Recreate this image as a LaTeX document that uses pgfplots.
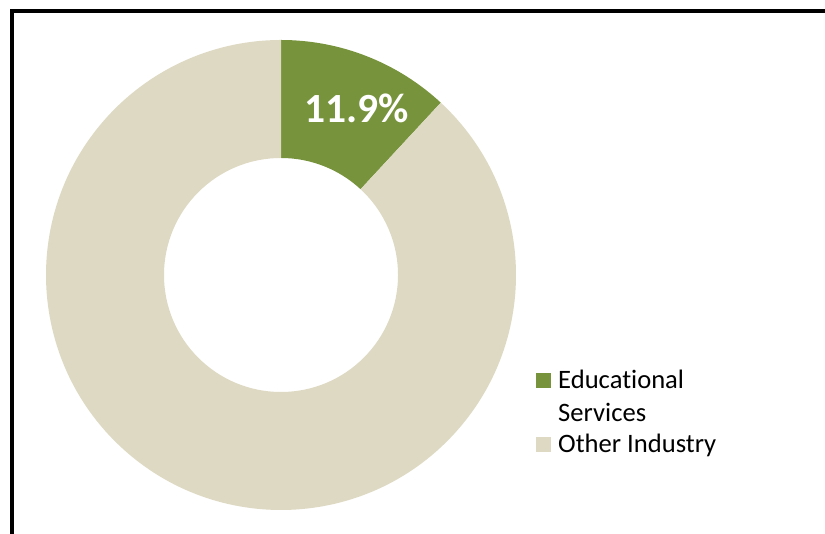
\documentclass[border=0pt]{standalone}
\usepackage{pgfplots}
\pgfplotsset{compat=1.18}
\usepackage{pgfplotstable}
\usepackage{fontspec}
\setmainfont[RawFeature={-liga;-clig;-dlig;-calt}]{Carlito}
\definecolor{edu}{HTML}{77933C}
\definecolor{oth}{HTML}{DDD9C3}
\pgfplotstableread{
share
11.9
88.1
}\sharetable
\begin{document}
\begin{tikzpicture}
\pgfplotstablegetelem{0}{share}\of\sharetable
\pgfmathsetmacro\ea{90-3.6*\pgfplotsretval}
\begin{axis}[at={(0,0)}, anchor=south west, scale only axis, width=825pt, height=534pt,
  xmin=0, xmax=825, ymin=0, ymax=534, hide axis, clip=false]
\begin{scope}[shift={(axis cs:281,259)}]
\fill[edu] (90:235pt) arc[start angle=90, end angle=\ea, radius=235pt] -- (\ea:117pt) arc[start angle=\ea, end angle=90, radius=117pt] -- cycle;
\fill[oth] (\ea:235pt) arc[start angle=\ea, end angle=-270, radius=235pt] -- (-270:117pt) arc[start angle=-270, end angle=\ea, radius=117pt] -- cycle;
\end{scope}
\node[anchor=base, inner sep=0pt, text=white, font=\bfseries\fontsize{41.5}{49}\selectfont] at (axis cs:357,411) {11.9\%};
\fill[edu] (axis cs:536,146) rectangle (axis cs:551,161);
\fill[oth] (axis cs:536,82) rectangle (axis cs:551,97);
\node[anchor=base west, inner sep=0pt, font=\fontsize{26.6}{31}\selectfont] at (axis cs:558,145) {Educational};
\node[anchor=base west, inner sep=0pt, font=\fontsize{26.6}{31}\selectfont] at (axis cs:558,112) {Services};
\node[anchor=base west, inner sep=0pt, font=\fontsize{26.6}{31}\selectfont] at (axis cs:558,81) {Other Industry};
\draw[line width=4pt] (axis cs:12,-20) -- (axis cs:12,523) -- (axis cs:850,523);
\end{axis}
\pgfresetboundingbox
\useasboundingbox (0,0) rectangle (825pt,534pt);
\end{tikzpicture}
\end{document}
